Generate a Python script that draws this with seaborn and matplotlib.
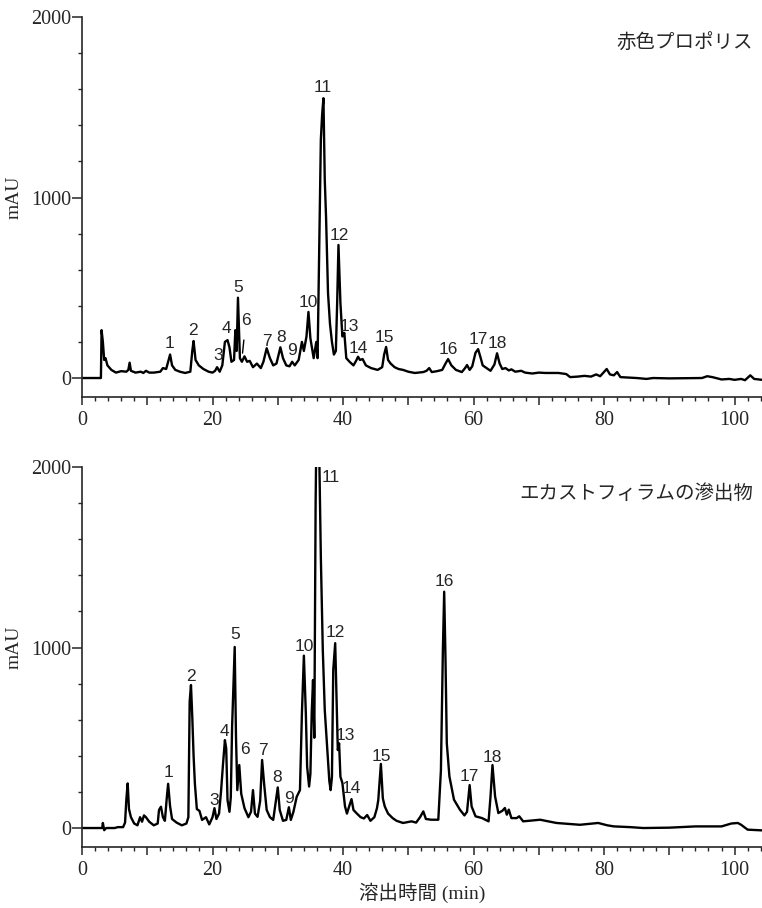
import numpy as np
import pandas as pd
import matplotlib
matplotlib.use("Agg")
import matplotlib.pyplot as plt
from matplotlib.ticker import MultipleLocator
import seaborn as sns

# trace of red propolis (time in min, absorbance in mAU)
red_time = [0, 2.9, 3.0, 3.2, 3.4, 3.6, 3.9, 4.5, 5.2, 6.0, 6.8, 7.1, 7.3, 7.5, 8.2, 9.0, 9.4, 9.8, 10.3, 11.0,
            12.0, 12.4, 12.9, 13.2, 13.5, 13.8, 14.3, 15.0, 15.8, 16.6, 16.9, 17.1, 17.4, 17.9, 18.6, 19.4, 20.0,
            20.4, 20.7, 21.1, 21.5, 21.9, 22.3, 22.6, 22.9, 23.3, 23.5, 23.7, 23.9, 24.2, 24.5, 24.9, 25.3, 25.7,
            26.2, 26.8, 27.4, 27.8, 28.3, 28.8, 29.3, 29.8, 30.4, 30.8, 31.3, 31.8, 32.2, 32.6, 33.2, 33.7, 34.0,
            34.4, 34.7, 35.0, 35.5, 35.9, 36.1, 36.3, 36.6, 36.8, 37.0, 37.2, 37.4, 37.7, 38.0, 38.3, 38.6, 38.9,
            39.1, 39.3, 39.6, 39.9, 40.2, 40.5, 41.0, 41.6, 42.0, 42.3, 42.6, 43.0, 43.5, 44.3, 45.3, 46.0, 46.3,
            46.6, 46.9, 47.3, 47.9, 48.5, 49.2, 50.0, 51.0, 52.3, 52.8, 53.2, 53.6, 54.4, 55.2, 55.7, 56.1, 56.6,
            57.3, 58.2, 58.7, 59.0, 59.4, 59.8, 60.3, 60.7, 61.1, 61.4, 62.2, 62.6, 63.2, 63.6, 64.0, 64.4, 64.9,
            65.4, 65.8, 66.4, 67.3, 67.9, 69.0, 70.0, 71.0, 73.0, 74.2, 74.8, 76.0, 77.0, 78.0, 78.8, 79.4, 79.9,
            80.4, 80.9, 81.5, 82.0, 82.5, 85.0, 86.5, 87.5, 90.0, 95.0, 95.8, 96.6, 98.0, 99.2, 100.0, 101.0,
            101.6, 102.4, 103.0, 104.2]
red_mau = [0, 0, 265, 200, 100, 110, 70, 45, 30, 38, 35, 45, 85, 40, 30, 35, 28, 40, 30, 30,
           35, 55, 50, 90, 130, 70, 45, 35, 28, 35, 150, 205, 100, 70, 50, 35, 30,
           40, 60, 35, 70, 200, 210, 170, 90, 100, 265, 150, 445, 110, 90, 120, 90, 95,
           60, 80, 55, 90, 165, 110, 70, 80, 170, 110, 70, 65, 90, 70, 100, 200, 150,
           230, 366, 220, 110, 200, 110, 600, 1320, 1460, 1550, 1100, 890, 470, 300, 200, 130, 150,
           415, 737, 415, 230, 250, 110, 90, 70, 95, 118, 100, 105, 70, 55, 45, 60, 130,
           172, 100, 80, 60, 50, 45, 35, 28, 33, 40, 55, 33, 38, 45, 80, 105, 70,
           45, 33, 55, 72, 45, 65, 140, 160, 110, 70, 50, 40, 75, 137, 80, 50, 55,
           42, 48, 35, 40, 30, 25, 30, 28, 28, 22, 5, 8, 12, 8, 20, 10, 30,
           50, 20, 15, 33, 5, 0, -5, 0, -2, 0, 10, 5, -8, -5, -10, -5,
           -12, 15, -5, -10]

# trace of the Dalbergia ecastaphyllum exudate
eca_time = [0, 3.1, 3.2, 3.4, 3.7, 5.0, 5.5, 6.3, 6.6, 6.8, 7.0, 7.2, 7.5, 8.0, 8.5, 8.9, 9.2, 9.5, 9.8, 10.3,
            11.0, 11.6, 11.8, 12.1, 12.4, 12.7, 13.0, 13.2, 13.5, 13.8, 14.5, 15.3, 16.0, 16.3, 16.5, 16.7, 16.9,
            17.1, 17.3, 17.6, 18.0, 18.4, 19.0, 19.5, 20.0, 20.3, 20.6, 21.0, 21.3, 21.6, 21.9, 22.1, 22.3, 22.6,
            22.8, 23.0, 23.4, 23.6, 23.8, 24.1, 24.4, 24.9, 25.5, 25.9, 26.2, 26.5, 26.9, 27.3, 27.6, 27.9, 28.3,
            28.8, 29.3, 29.7, 30.0, 30.3, 30.8, 31.3, 31.7, 32.0, 32.4, 32.9, 33.4, 33.7, 34.0, 34.3, 34.5, 34.8,
            35.0, 35.2, 35.4, 35.6, 35.8, 36.0, 36.3, 36.6, 36.9, 37.2, 37.6, 37.9, 38.1, 38.3, 38.5, 38.8, 39.0,
            39.2, 39.4, 39.6, 39.9, 40.3, 40.6, 41.0, 41.3, 41.6, 42.1, 42.7, 43.2, 43.7, 44.2, 44.8, 45.2, 45.4,
            45.8, 46.1, 46.4, 46.9, 47.6, 48.2, 49.2, 50.5, 51.2, 51.8, 52.3, 52.7, 53.5, 54.6, 55.0, 55.3, 55.5,
            55.7, 55.9, 56.3, 57.0, 57.9, 58.6, 59.0, 59.4, 59.7, 60.3, 61.3, 62.3, 62.6, 62.9, 63.3, 63.8, 64.4,
            64.8, 65.1, 65.4, 65.8, 66.6, 67.0, 67.6, 70.2, 72.7, 76.3, 79.1, 80.5, 81.5, 84.0, 86.0, 90.0, 94.0,
            98.0, 99.5, 100.5, 101.0, 102.0, 104.2]
eca_mau = [0, 0, 28, -12, 0, 0, 5, 5, 30, 160, 247, 105, 60, 25, 15, 60, 35, 70, 60, 35,
           15, 25, 100, 118, 60, 40, 170, 245, 120, 50, 30, 15, 25, 60, 700, 792, 615,
           400, 245, 105, 95, 45, 60, 20, 60, 110, 50, 80, 200, 350, 487, 440, 155, 90,
           170, 560, 1003, 500, 210, 349, 190, 110, 60, 90, 210, 80, 62, 150, 377, 248, 100,
           60, 45, 150, 225, 100, 40, 45, 115, 45, 90, 173, 210, 636, 955, 636, 340, 230,
           300, 636, 820, 500, 1800, 2450, 2200, 1500, 986, 654, 432, 260, 210, 284, 875, 1024, 727,
           432, 469, 284, 250, 120, 80, 127, 160, 100, 81, 60, 53, 72, 40, 60, 110, 155,
           355, 164, 119, 80, 55, 40, 28, 37, 30, 60, 92, 50, 46, 46, 321, 986, 1309,
           937, 470, 286, 157, 102, 70, 90, 238, 120, 65, 55, 37, 175, 349, 175, 83, 95,
           111, 74, 102, 55, 55, 65, 37, 46, 28, 18, 28, 15, 9, 5, 0, 2, 9,
           9, 25, 28, 18, -9, -13]

# peak numbers and where they sit
peak_ids = [str(i) for i in range(1, 19)]
red_lab_t = [13.4, 17.0, 20.8, 22.1, 23.9, 25.1, 28.3, 30.5, 32.2, 34.7, 36.9, 39.4, 41.0, 42.4, 46.4, 56.1, 60.7, 63.6]
red_lab_y = [194, 266, 122, 277, 504, 316, 205, 222, 150, 416, 1607, 792, 288, 166, 227, 160, 216, 194]
eca_lab_t = [13.2, 16.7, 20.3, 21.8, 23.5, 24.9, 27.8, 29.9, 31.7, 34.0, 38.1, 38.8, 40.3, 41.3, 45.9, 55.5, 59.3, 62.9]
eca_lab_y = [306, 842, 151, 537, 1073, 437, 428, 279, 164, 1004, 1943, 1082, 515, 221, 395, 1368, 288, 392]
red_leader_6 = (24.6, 138)

x_ticks = [0, 10, 20, 30, 40, 50, 60, 70, 80, 90, 100]
x_tick_labels = ['0', '', '20', '', '40', '', '60', '', '80', '', '100']
y_ticks = [0, 1000, 2000]
y_tick_labels = ['0', '1000', '2000']
titles = ['赤色プロポリス', 'エカストフィラムの滲出物']

sns.set_style('ticks')
serif_cjk = ['Liberation Serif', 'Noto Sans CJK JP']
plt.rcParams['font.family'] = serif_cjk
plt.rcParams['axes.linewidth'] = 1.2

fig = plt.figure(figsize=(7.62, 9.08), dpi=100)
ax_top = fig.add_axes([0.1076, 0.5628, 0.8924, 0.4185])
ax_bot = fig.add_axes([0.1076, 0.0672, 0.8924, 0.4185])

panels = [
    (ax_top, red_time, red_mau, red_lab_t, red_lab_y, titles[0]),
    (ax_bot, eca_time, eca_mau, eca_lab_t, eca_lab_y, titles[1]),
]

for ax, t, v, lt, ly, title in panels:
    df = pd.DataFrame({'time': t, 'mau': v})
    sns.lineplot(data=df, x='time', y='mau', ax=ax, color='black', linewidth=1.7,
                 sort=False, estimator=None)
    ax.set_xlim(0, 104.2)
    ax.set_ylim(-105, 2000)
    for s in ['top', 'right']:
        ax.spines[s].set_visible(False)
    ax.set_xticks(x_ticks)
    ax.set_xticklabels(x_tick_labels)
    ax.xaxis.set_minor_locator(MultipleLocator(2))
    ax.set_yticks(y_ticks)
    ax.set_yticklabels(y_tick_labels)
    ax.yaxis.set_minor_locator(MultipleLocator(200))
    ax.tick_params(axis='x', which='major', length=6, width=1.1, pad=4, labelsize=14.5)
    ax.tick_params(axis='x', which='minor', length=3, width=1.0)
    ax.tick_params(axis='y', which='major', length=7, width=1.1, pad=1, labelsize=14.5)
    ax.tick_params(axis='y', which='minor', length=3, width=1.0)
    ax.set_ylabel('mAU', fontsize=14)
    ax.yaxis.set_label_coords(-0.088, 0.525)
    ax.set_xlabel('')
    for lab, xx, yy in zip(peak_ids, lt, ly):
        if ax is ax_top and lab == '6':
            ax.annotate(lab, xy=red_leader_6, xytext=(xx, yy), ha='center', va='center',
                        fontsize=12.5, family='Liberation Sans',
                        arrowprops=dict(arrowstyle='-', color='black', lw=1.0,
                                        shrinkA=6, shrinkB=0))
        else:
            ax.text(xx, yy, lab, ha='center', va='center', fontsize=12.5,
                    family='Liberation Sans')
    ax.text(0.987, 0.93, title, transform=ax.transAxes, ha='right', va='center',
            fontsize=14, family=serif_cjk)

ax_bot.set_xlabel('溶出時間 (min)', fontsize=14, labelpad=2)

fig.savefig('out.png', dpi=100)
